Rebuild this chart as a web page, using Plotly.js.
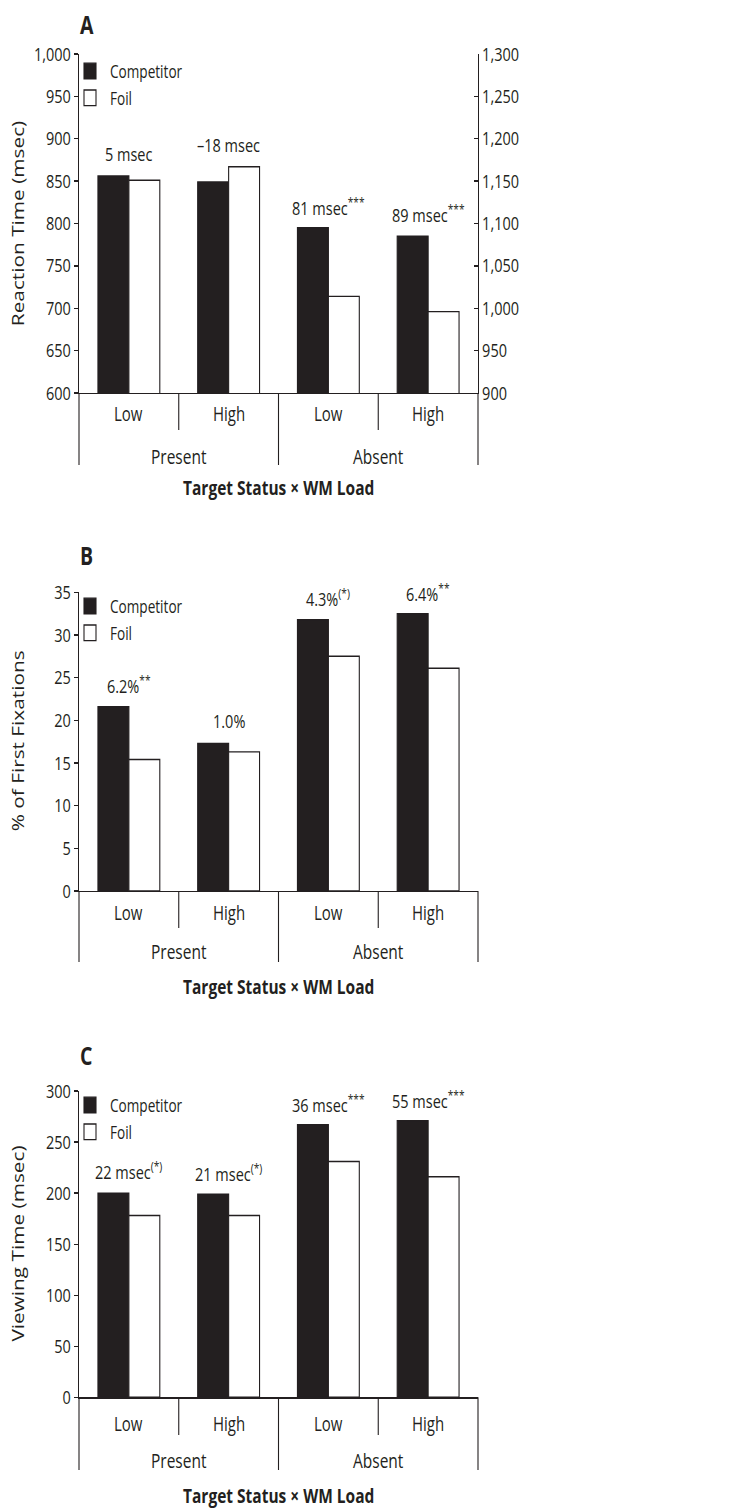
<!DOCTYPE html>
<html>
<head>
<meta charset="utf-8">
<script src="https://cdn.plot.ly/plotly-3.0.1.min.js"></script>
<style>
html,body{margin:0;padding:0;background:#fff;width:745px;height:1508px;}
/* the reference figure is vertically stretched; reproduce that with a uniform vertical scale */
#chart{width:745px;height:1160px;transform:scaleY(1.3);transform-origin:0 0;}
</style>
</head>
<body>
<div id="chart"></div>
<script>
// ---------- data ----------
const status = ["Present", "Present", "Absent", "Absent"];
const load = ["Low", "High", "Low", "High"];
const seriesNames = ["Competitor", "Foil"];

// Panel A: reaction time (msec). Present on left axis, Absent on right axis
const rtCompetitor = [856, 849, 1095, 1085];
const rtFoil = [851, 867, 1014, 996];
const rtLabels = ["5 msec", "\u201318 msec", "81 msec<sup>***</sup>", "89 msec<sup>***</sup>"];

// Panel B: % of first fixations
const fixCompetitor = [21.6, 17.3, 31.8, 32.5];
const fixFoil = [15.4, 16.3, 27.5, 26.1];
const fixLabels = ["6.2%<sup>**</sup>", "1.0%", "4.3%<sup>(*)</sup>", "6.4%<sup>**</sup>"];

// Panel C: viewing time (msec)
const vtCompetitor = [200, 199, 267, 271];
const vtFoil = [178, 178, 231, 216];
const vtLabels = ["22 msec<sup>(*)</sup>", "21 msec<sup>(*)</sup>", "36 msec<sup>***</sup>", "55 msec<sup>***</sup>"];

const yTitles = ["Reaction Time (msec)", "% of First Fixations", "Viewing Time (msec)"];
const xTitle = "Target Status \u00d7 WM Load";
const panelLetters = ["A", "B", "C"];

// ---------- layout helpers ----------
const W = 745, H = 1508, S = 1.3;          // final picture size and vertical stretch
const py = p => 1 - p / H;                  // reference pixel row -> paper fraction
const px = p => p / W;
const INK = "#231f20";
const FONT = "'Open Sans', 'Noto Sans', sans-serif";
const cats = status.map((s, i) => s + " " + load[i]);

const panels = [
  {top: 54, bottom: 393, range: [600, 1000], range2: [900, 1300], dtick: 50,
   comp: rtCompetitor, foil: rtFoil, labels: rtLabels,
   row1: 414, row2: 456, inner: 430, outer: 465, title: 488, letter: 23.5, legendTop: 51},
  {top: 592.3, bottom: 891, range: [0, 35], dtick: 5,
   comp: fixCompetitor, foil: fixFoil, labels: fixLabels,
   row1: 913, row2: 952, inner: 928, outer: 962, title: 987, letter: 556, legendTop: 586},
  {top: 1091, bottom: 1397.3, range: [0, 300], dtick: 50,
   comp: vtCompetitor, foil: vtFoil, labels: vtLabels,
   row1: 1423, row2: 1460, inner: 1435, outer: 1470, title: 1495, letter: 1055, legendTop: 1085}
];

const xDom = [px(79), px(478)];
const traces = [];
const layout = {
  width: W, height: H / S,
  margin: {l: 0, r: 0, t: 0, b: 0},
  paper_bgcolor: "#fff", plot_bgcolor: "rgba(0,0,0,0)",
  barmode: "group", bargap: 0.38, bargroupgap: 0,
  font: {family: FONT, size: 14, color: INK},
  shapes: [], annotations: []
};

const axisIds = [
  {x: "x", y: "y", y2: "y2", xName: "xaxis", yName: "yaxis", y2Name: "yaxis2"},
  {x: "x2", y: "y3", xName: "xaxis2", yName: "yaxis3"},
  {x: "x3", y: "y4", xName: "xaxis3", yName: "yaxis4"}
];

panels.forEach((p, k) => {
  const ids = axisIds[k];
  const legendId = k === 0 ? "legend" : "legend" + (k + 1);
  const splitRight = !!p.range2;
  const leftIdx = splitRight ? [0, 1] : [0, 1, 2, 3];
  const rightIdx = splitRight ? [2, 3] : [];
  const mk = (vals, idx, name, yref, fill, show) => ({
    type: "bar", name: name,
    x: idx.map(i => cats[i]), y: idx.map(i => vals[i]),
    xaxis: ids.x, yaxis: yref,
    marker: {color: fill, line: {color: INK, width: 1.1}},
    showlegend: show, legend: legendId, hoverinfo: "x+y"
  });
  traces.push(mk(p.comp, leftIdx, seriesNames[0], ids.y, INK, true));
  traces.push(mk(p.foil, leftIdx, seriesNames[1], ids.y, "#ffffff", true));
  if (splitRight) {
    traces.push(mk(p.comp, rightIdx, seriesNames[0], ids.y2, INK, false));
    traces.push(mk(p.foil, rightIdx, seriesNames[1], ids.y2, "#ffffff", false));
  }

  const ydom = [py(p.bottom), py(p.top)];
  layout[ids.xName] = {
    domain: xDom, anchor: ids.y, type: "category",
    categoryorder: "array", categoryarray: cats, range: [-0.5, 3.5],
    showline: true, linecolor: INK, linewidth: 1,
    ticks: "", showticklabels: false, showgrid: false, zeroline: false, fixedrange: true
  };
  layout[ids.yName] = {
    domain: ydom, anchor: ids.x, range: p.range, dtick: p.dtick, tick0: 0,
    tickformat: ",d", showline: true, linecolor: INK, linewidth: 1.2,
    ticks: "outside", ticklen: 4, tickwidth: 1, tickcolor: INK,
    tickfont: {family: FONT, size: 14.5, color: INK},
    showgrid: false, zeroline: false, fixedrange: true
  };
  if (splitRight) {
    layout[ids.y2Name] = {
      overlaying: ids.y, side: "right", anchor: ids.x, range: p.range2, dtick: p.dtick,
      tickformat: ",d", showline: true, linecolor: INK, linewidth: 1.2,
      ticks: "inside", ticklen: 4, tickwidth: 1, tickcolor: INK,
      tickfont: {family: FONT, size: 14.5, color: INK},
      showgrid: false, zeroline: false, fixedrange: true
    };
  }

  layout[legendId] = {
    x: px(70), y: py(p.legendTop), xanchor: "left", yanchor: "top",
    bgcolor: "rgba(0,0,0,0)", borderwidth: 0, traceorder: "normal",
    font: {family: FONT, size: 13.6, color: INK}, itemwidth: 30
  };

  // category dividers below the axis
  const xd = ids.x + " domain";
  [0.25, 0.75].forEach(f => layout.shapes.push({type: "line", xref: xd, yref: "paper",
    x0: f, x1: f, y0: py(p.bottom), y1: py(p.inner), line: {color: INK, width: 1.1}}));
  [0, 0.5, 1].forEach(f => layout.shapes.push({type: "line", xref: xd, yref: "paper",
    x0: f, x1: f, y0: py(p.bottom), y1: py(p.outer), line: {color: INK, width: 1.1}}));

  // inner / outer category labels
  load.forEach((l, i) => layout.annotations.push({xref: xd, yref: "paper",
    x: (i + 0.5) / 4, y: py(p.row1), text: l, showarrow: false,
    xanchor: "center", yanchor: "middle",
    font: {family: FONT, size: 15, color: INK}}));
  ["Present", "Absent"].forEach((s, i) => layout.annotations.push({xref: xd, yref: "paper",
    x: (i + 0.5) / 2, y: py(p.row2), text: s, showarrow: false,
    xanchor: "center", yanchor: "middle",
    font: {family: FONT, size: 15.5, color: INK}}));

  // x title
  layout.annotations.push({xref: xd, yref: "paper", x: 0.5, y: py(p.title),
    text: "<b>" + xTitle + "</b>", showarrow: false, xanchor: "center", yanchor: "middle",
    font: {family: FONT, size: 15.5, color: INK}});
  // y title
  layout.annotations.push({xref: "paper", yref: "paper", x: px(18), y: (ydom[0] + ydom[1]) / 2,
    text: yTitles[k], textangle: -90, showarrow: false, xanchor: "center", yanchor: "middle",
    font: {family: FONT, size: 16, color: INK}});
  // panel letter
  layout.annotations.push({xref: "paper", yref: "paper", x: px(78), y: py(p.letter),
    text: "<b>" + panelLetters[k] + "</b>", showarrow: false, xanchor: "left", yanchor: "middle",
    font: {family: FONT, size: 19.5, color: INK}});

  // difference labels above each bar pair
  p.labels.forEach((t, i) => {
    const onRight = splitRight && i >= 2;
    layout.annotations.push({xref: ids.x, yref: onRight ? ids.y2 : ids.y,
      x: cats[i], y: Math.max(p.comp[i], p.foil[i]), yshift: 22 / S,
      text: t, showarrow: false, xanchor: "center", yanchor: "middle",
      font: {family: FONT, size: 14.5, color: INK}});
  });
});

Plotly.newPlot("chart", traces, layout, {displayModeBar: false, staticPlot: true});
</script>
</body>
</html>
